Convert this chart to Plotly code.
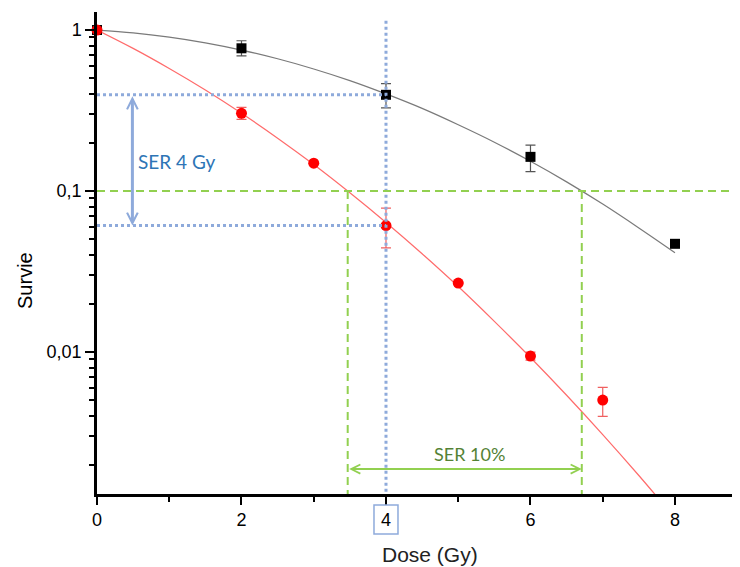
import math
import plotly.graph_objects as go

# ---- data ----
dose_ctrl = [0, 2, 4, 6, 8]
surv_ctrl = [1.0, 0.77, 0.396, 0.163, 0.047]
ctrl_hi = [1.0, 0.858, 0.464, 0.193, 0.047]
ctrl_lo = [1.0, 0.69, 0.328, 0.132, 0.047]

dose_trt = [0, 2, 3, 4, 5, 6, 7]
surv_trt = [1.0, 0.304, 0.149, 0.061, 0.0268, 0.00944, 0.00503]
trt_hi = [1.0, 0.331, 0.149, 0.0784, 0.0268, 0.0100, 0.00603]
trt_lo = [1.0, 0.279, 0.149, 0.0443, 0.0268, 0.0089, 0.00398]

fit_dose = [0, 0.5, 1, 1.5, 2, 2.5, 3, 3.5, 4, 4.5, 5, 5.5, 6, 6.5, 7, 7.5, 8]
fit_ctrl = [1, 0.961, 0.904, 0.833, 0.751, 0.663, 0.573, 0.485, 0.401, 0.326,
            0.258, 0.201, 0.153, 0.114, 0.083, 0.059, 0.0414]
fit_trt = [1, 0.769, 0.577, 0.424, 0.304, 0.213, 0.146, 0.0975, 0.0638, 0.0408,
           0.0255, 0.0155, 0.00925, 0.00539, 0.00307, 0.00171, 0.00093]

# reference values (SER construction)
ser_dose = 4
ser_ctrl_at4 = 0.396
ser_trt_at4 = 0.061
level10 = 0.1
dose10_trt = 3.47
dose10_ctrl = 6.71

x_ticks = [0, 2, 4, 6, 8]
x_minor = [1, 3, 5, 7]
y_ticks = [0.01, 0.1, 1]
y_ticktext = ["0,01", "0,1", "1"]
y_minor = [m * 10 ** e for e in (-3, -2, -1) for m in range(2, 10)]

X_MAX = 8.9
Y_LOG_RANGE = [-2.882, 0.112]
Y_BOTTOM = 10 ** Y_LOG_RANGE[0] * 0.9

BLUE = "#8eaadb"
GREEN = "#92d050"

fig = go.Figure()

# fit curves
fig.add_trace(go.Scatter(x=fit_dose, y=fit_ctrl, mode="lines", line=dict(color="#7a7a7a", width=1.2, shape="spline"), hoverinfo="skip"))
fig.add_trace(go.Scatter(x=fit_dose, y=fit_trt, mode="lines", line=dict(color="#ff6b6b", width=1.2, shape="spline"), hoverinfo="skip"))

# data points
fig.add_trace(go.Scatter(
    x=dose_ctrl, y=surv_ctrl, mode="markers",
    marker=dict(symbol="square", size=10, color="black"),
    error_y=dict(type="data", symmetric=False,
                 array=[h - v for h, v in zip(ctrl_hi, surv_ctrl)],
                 arrayminus=[v - l for v, l in zip(surv_ctrl, ctrl_lo)],
                 color="#555555", thickness=1.2, width=5),
    cliponaxis=False))
fig.add_trace(go.Scatter(
    x=dose_trt, y=surv_trt, mode="markers",
    marker=dict(symbol="circle", size=11, color="#ff0000"),
    error_y=dict(type="data", symmetric=False,
                 array=[h - v for h, v in zip(trt_hi, surv_trt)],
                 arrayminus=[v - l for v, l in zip(surv_trt, trt_lo)],
                 color="#f06060", thickness=1.2, width=5),
    cliponaxis=False))

# blue dotted lines
dot = dict(color=BLUE, width=3, dash="dot")
fig.add_trace(go.Scatter(x=[ser_dose, ser_dose], y=[1.14, Y_BOTTOM], mode="lines", line=dot, hoverinfo="skip"))
fig.add_trace(go.Scatter(x=[0, ser_dose], y=[ser_ctrl_at4, ser_ctrl_at4], mode="lines", line=dot, hoverinfo="skip"))
fig.add_trace(go.Scatter(x=[0, ser_dose], y=[ser_trt_at4, ser_trt_at4], mode="lines", line=dot, hoverinfo="skip"))

# green dashed lines
dash = dict(color=GREEN, width=2, dash="8px,5px")
fig.add_trace(go.Scatter(x=[0, X_MAX], y=[level10, level10], mode="lines", line=dash, hoverinfo="skip"))
fig.add_trace(go.Scatter(x=[dose10_trt, dose10_trt], y=[level10, Y_BOTTOM], mode="lines", line=dash, hoverinfo="skip"))
fig.add_trace(go.Scatter(x=[dose10_ctrl, dose10_ctrl], y=[level10, Y_BOTTOM], mode="lines", line=dash, hoverinfo="skip"))

annotations = []
# blue double arrow
annotations.append(dict(x=0.49, y=math.log10(ser_trt_at4), ax=0.49, ay=math.log10(ser_ctrl_at4),
                        xref="x", yref="y", axref="x", ayref="y", text="", showarrow=True,
                        arrowhead=5, startarrowhead=5, arrowside="end+start",
                        arrowwidth=3, arrowsize=0.7, startarrowsize=0.7, arrowcolor=BLUE))
annotations.append(dict(x=1.107, y=-0.814, xref="x", yref="y", text="SER 4 Gy", showarrow=False,
                        font=dict(family="Lato", size=19, color="#2e75b6"), xanchor="center", yanchor="middle"))
# green double arrow
green_arrow_y = math.log10(0.001875)
annotations.append(dict(x=dose10_ctrl, y=green_arrow_y, ax=dose10_trt, ay=green_arrow_y,
                        xref="x", yref="y", axref="x", ayref="y", text="", showarrow=True,
                        arrowhead=5, startarrowhead=5, arrowside="end+start",
                        arrowwidth=2, arrowsize=0.9, startarrowsize=0.9, arrowcolor=GREEN))
annotations.append(dict(x=5.16, y=-2.634, xref="x", yref="y", text="SER 10%", showarrow=False,
                        font=dict(family="Lato", size=18, color="#548235"), xanchor="center", yanchor="middle"))
# axis titles
annotations.append(dict(x=-0.112, y=0.444, xref="paper", yref="paper", text="Survie", textangle=-90,
                        showarrow=False, font=dict(family="Liberation Sans, Arial", size=20, color="black"),
                        xanchor="center", yanchor="middle"))
annotations.append(dict(x=0.518, y=-0.1245, xref="paper", yref="paper", text="Dose (Gy)",
                        showarrow=False, font=dict(family="Liberation Sans, Arial", size=21, color="#222222"),
                        xanchor="center", yanchor="middle"))

shapes = [
    dict(type="rect", xref="x", xsizemode="pixel", xanchor=0, x0=-47, x1=-11,
         yref="y", ysizemode="pixel", yanchor=level10, y0=-16, y1=16,
         line=dict(color=GREEN, width=1.5)),
    dict(type="rect", xref="x", xsizemode="pixel", xanchor=ser_dose, x0=-12, x1=12,
         yref="paper", ysizemode="pixel", yanchor=0, y0=-11, y1=-40,
         line=dict(color=BLUE, width=1.5)),
]

# the page adds an 8px body margin, so the figure is sized to fit inside the window
fig.update_layout(
    width=732, height=559,
    margin=dict(l=89, r=0, t=4, b=73),
    paper_bgcolor="white", plot_bgcolor="white",
    showlegend=False,
    font=dict(family="Liberation Sans, Arial", size=18, color="black"),
    annotations=annotations, shapes=shapes,
    xaxis=dict(range=[0, X_MAX], tickmode="array", tickvals=x_ticks, ticks="outside",
               ticklen=8, tickwidth=2, tickcolor="black", showline=True, linewidth=2.5,
               linecolor="black", showgrid=False, zeroline=False,
               tickfont=dict(size=18),
               minor=dict(tickmode="array", tickvals=x_minor, ticks="outside", ticklen=5,
                          tickwidth=2, tickcolor="black", showgrid=False)),
    yaxis=dict(type="log", range=Y_LOG_RANGE, tickmode="array", tickvals=y_ticks,
               ticktext=y_ticktext, ticks="outside", ticklen=9, tickwidth=2, tickcolor="black",
               showline=True, linewidth=2.5, linecolor="black", showgrid=False, zeroline=False,
               tickfont=dict(size=18),
               minor=dict(tickmode="array", tickvals=y_minor, ticks="outside", ticklen=5,
                          tickwidth=2, tickcolor="black", showgrid=False)),
)

fig.write_html("out.html")
